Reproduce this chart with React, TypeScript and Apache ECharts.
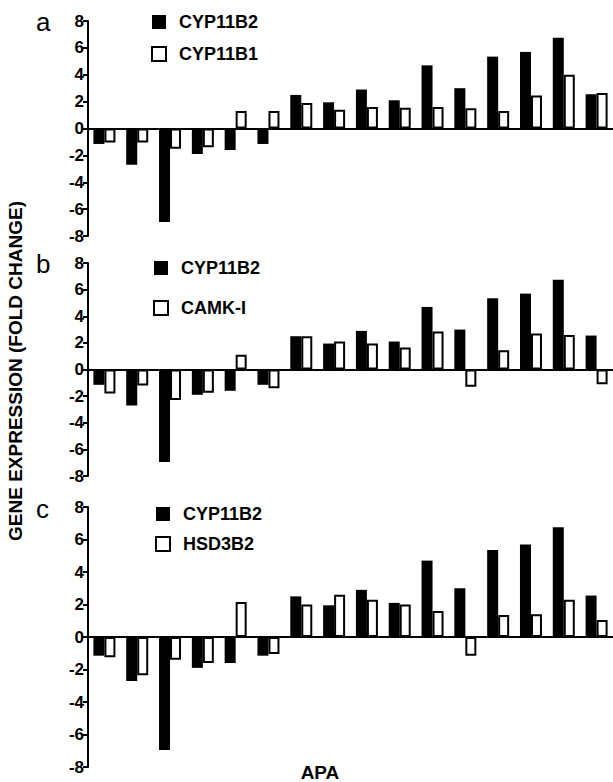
import React, { useEffect, useRef } from "react";
import * as echarts from "echarts";

// ---------- data ----------
const categories = [
  "APA1", "APA2", "APA3", "APA4", "APA5", "APA6", "APA7", "APA8",
  "APA9", "APA10", "APA11", "APA12", "APA13", "APA14", "APA15", "APA16",
];
const cyp11b2 = [-1.15, -2.7, -6.95, -1.9, -1.6, -1.15, 2.5, 1.95, 2.9, 2.1, 4.7, 3.0, 5.35, 5.7, 6.75, 2.55];
const cyp11b1 = [-1.05, -1.05, -1.5, -1.4, 1.3, 1.3, 1.9, 1.4, 1.6, 1.55, 1.6, 1.5, 1.3, 2.45, 4.0, 2.65];
const camk1 = [-1.8, -1.2, -2.3, -1.75, 1.1, -1.4, 2.5, 2.1, 1.95, 1.65, 2.85, -1.3, 1.45, 2.7, 2.6, -1.1];
const hsd3b2 = [-1.25, -2.35, -1.4, -1.6, 2.15, -1.05, 2.0, 2.6, 2.3, 2.0, 1.6, -1.15, 1.35, 1.4, 2.3, 1.05];
const panelLetters = ["a", "b", "c"];
const secondNames = ["CYP11B1", "CAMK-I", "HSD3B2"];
const secondValues = [cyp11b1, camk1, hsd3b2];
const yTitle = "GENE EXPRESSION (FOLD CHANGE)";
const xTitle = "APA";

// ---------- layout ----------
const FONT = "'Liberation Sans', Arial, Helvetica, sans-serif";
const gridBoxes = [
  { top: 21, height: 215 },
  { top: 263, height: 213 },
  { top: 507, height: 260 },
];
const legendBoxes = [
  { left: 151, top: 13, gap: 14 },
  { left: 153, top: 259, gap: 22 },
  { left: 155, top: 505, gap: 12 },
];
const letterY = [22, 264, 509];

export default function App() {
  const ref = useRef<HTMLDivElement>(null);
  useEffect(() => {
    if (!ref.current) return;
    const chart = echarts.init(ref.current, null, { renderer: "svg" });

    const grid = gridBoxes.map((g) => ({ left: 88, width: 525, top: g.top, height: g.height }));
    const xAxis = gridBoxes.map((_, i) => ({
      type: "category",
      gridIndex: i,
      data: categories,
      axisLine: { onZero: true, lineStyle: { color: "#000", width: 2 } },
      axisTick: { show: false },
      axisLabel: { show: false },
      splitLine: { show: false },
    }));
    const yAxis = gridBoxes.map((_, i) => ({
      type: "value",
      gridIndex: i,
      min: -8,
      max: 8,
      interval: 2,
      axisLine: { show: true, lineStyle: { color: "#000", width: 2 } },
      axisTick: { show: true, length: 5, lineStyle: { color: "#000", width: 2 } },
      axisLabel: { color: "#000", fontSize: 17, fontWeight: "bold", fontFamily: FONT, margin: 4 },
      splitLine: { show: false },
    }));
    const series: any[] = [];
    gridBoxes.forEach((_, i) => {
      series.push({
        type: "bar",
        name: "CYP11B2",
        xAxisIndex: i,
        yAxisIndex: i,
        data: cyp11b2,
        barWidth: 11,
        barGap: "0%",
        itemStyle: { color: "#000" },
      });
      series.push({
        type: "bar",
        name: secondNames[i],
        xAxisIndex: i,
        yAxisIndex: i,
        data: secondValues[i],
        barWidth: 11,
        barGap: "0%",
        itemStyle: { color: "#fff", borderColor: "#000", borderWidth: 2 },
      });
    });
    const legend = legendBoxes.map((l, i) => ({
      orient: "vertical",
      left: l.left,
      top: l.top,
      itemGap: l.gap,
      itemWidth: 14,
      itemHeight: 14,
      icon: "rect",
      padding: 0,
      selectedMode: false,
      data: ["CYP11B2", secondNames[i]],
      textStyle: { color: "#000", fontSize: 18, fontWeight: "bold", fontFamily: FONT, padding: [0, 0, 0, 8] },
    }));
    const graphic: any[] = panelLetters.map((t, i) => ({
      type: "text",
      x: 36,
      y: letterY[i],
      style: {
        text: t,
        fill: "#000",
        font: `normal 26px ${FONT}`,
        align: "left",
        verticalAlign: "middle",
        textAlign: "left",
        textVerticalAlign: "middle",
      },
    }));
    graphic.push({
      type: "text",
      x: 15,
      y: 371,
      rotation: Math.PI / 2,
      style: {
        text: yTitle,
        fill: "#000",
        font: `bold 19px ${FONT}`,
        align: "center",
        verticalAlign: "middle",
        textAlign: "center",
        textVerticalAlign: "middle",
      },
    });
    graphic.push({
      type: "text",
      x: 320,
      y: 772,
      style: {
        text: xTitle,
        fill: "#000",
        font: `bold 19px ${FONT}`,
        align: "center",
        verticalAlign: "middle",
        textAlign: "center",
        textVerticalAlign: "middle",
      },
    });

    chart.setOption({
      animation: false,
      backgroundColor: "#fff",
      grid,
      xAxis,
      yAxis,
      series,
      legend,
      graphic,
    });
    return () => chart.dispose();
  }, []);
  return (
    <div
      ref={ref}
      style={{ position: "fixed", left: 0, top: 0, width: 613, height: 782 }}
    />
  );
}
